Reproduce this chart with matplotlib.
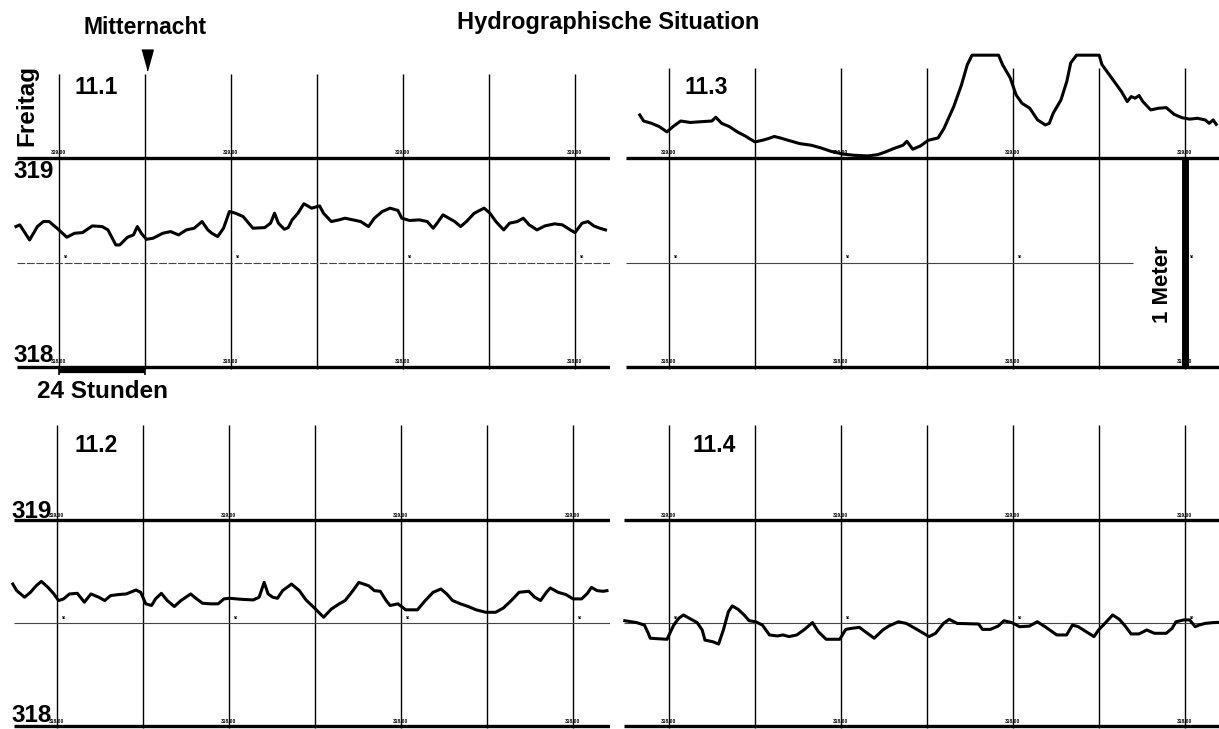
import matplotlib
matplotlib.use('Agg')
import matplotlib.pyplot as plt

# Pegel in m ü. M., Zeit in Tagen ab der ersten Mitternacht
days_11_1 = [-0.50, -0.456, -0.342, -0.251, -0.182, -0.114, -0.023, 0.091, 0.182, 0.273, 0.387, 0.501,
             0.569, 0.661, 0.706, 0.797, 0.866, 0.911, 0.957, 1.016, 1.093, 1.207, 1.298, 1.39, 1.481,
             1.572, 1.663, 1.731, 1.777, 1.845, 1.913, 1.982, 2.05, 2.141, 2.255, 2.392, 2.46, 2.506,
             2.551, 2.62, 2.665, 2.711, 2.779, 2.847, 2.938, 3.03, 3.075, 3.166, 3.257, 3.326, 3.417,
             3.508, 3.599, 3.667, 3.759, 3.85, 3.941, 3.986, 4.077, 4.191, 4.282, 4.351, 4.396, 4.465,
             4.533, 4.601, 4.67, 4.738, 4.829, 4.943, 5.011, 5.08, 5.171, 5.239, 5.33, 5.399, 5.467,
             5.558, 5.649, 5.763, 5.854, 5.945, 6.0, 6.082, 6.15, 6.219, 6.287, 6.355]
level_11_1 = [318.672, 318.68, 318.608, 318.672, 318.696, 318.696, 318.664, 318.621, 318.64, 318.643,
              318.675, 318.672, 318.656, 318.584, 318.584, 318.621, 318.632, 318.672, 318.64, 318.611,
              318.616, 318.64, 318.648, 318.632, 318.656, 318.664, 318.696, 318.656, 318.64, 318.624,
              318.664, 318.744, 318.736, 318.72, 318.664, 318.667, 318.688, 318.736, 318.688, 318.659,
              318.667, 318.704, 318.736, 318.781, 318.76, 318.771, 318.736, 318.696, 318.704, 318.712,
              318.704, 318.696, 318.672, 318.712, 318.744, 318.76, 318.749, 318.712, 318.701, 318.704,
              318.696, 318.664, 318.688, 318.728, 318.712, 318.696, 318.672, 318.696, 318.736, 318.76,
              318.736, 318.696, 318.656, 318.688, 318.696, 318.712, 318.68, 318.656, 318.675, 318.685,
              318.68, 318.656, 318.643, 318.688, 318.696, 318.675, 318.664, 318.656]

days_11_3 = [-0.34, -0.295, -0.204, -0.113, -0.023, 0.045, 0.136, 0.249, 0.385, 0.499, 0.544, 0.612,
             0.703, 0.794, 0.884, 0.998, 1.088, 1.156, 1.224, 1.293, 1.383, 1.519, 1.655, 1.769, 1.882,
             2.018, 2.154, 2.313, 2.426, 2.517, 2.63, 2.721, 2.766, 2.834, 2.925, 3.016, 3.129, 3.197,
             3.311, 3.401, 3.469, 3.524, 3.832, 3.878, 3.968, 4.036, 4.104, 4.195, 4.286, 4.376, 4.422,
             4.467, 4.558, 4.626, 4.671, 4.739, 5.002, 5.034, 5.147, 5.261, 5.329, 5.374, 5.42, 5.465,
             5.51, 5.601, 5.692, 5.782, 5.873, 5.964, 6.054, 6.145, 6.236, 6.281, 6.327, 6.363]
level_11_3 = [319.206, 319.177, 319.166, 319.15, 319.125, 319.15, 319.177, 319.17, 319.174, 319.177,
              319.195, 319.166, 319.15, 319.125, 319.106, 319.077, 319.085, 319.093, 319.103, 319.096,
              319.085, 319.069, 319.061, 319.048, 319.032, 319.019, 319.013, 319.01, 319.016, 319.029,
              319.048, 319.061, 319.08, 319.042, 319.058, 319.085, 319.096, 319.141, 319.246, 319.35,
              319.447, 319.492, 319.492, 319.447, 319.383, 319.302, 319.262, 319.238, 319.182, 319.158,
              319.166, 319.214, 319.278, 319.367, 319.455, 319.492, 319.492, 319.447, 319.383, 319.318,
              319.27, 319.294, 319.286, 319.299, 319.27, 319.23, 319.238, 319.241, 319.209, 319.193,
              319.186, 319.19, 319.182, 319.166, 319.182, 319.161]

days_11_2 = [-0.514, -0.468, -0.377, -0.309, -0.241, -0.182, -0.105, -0.036, 0.018, 0.077, 0.145,
             0.236, 0.318, 0.395, 0.486, 0.555, 0.623, 0.714, 0.805, 0.918, 0.973, 1.032, 1.1, 1.145,
             1.214, 1.282, 1.364, 1.441, 1.555, 1.6, 1.691, 1.782, 1.873, 1.941, 2.009, 2.145, 2.282,
             2.35, 2.409, 2.455, 2.509, 2.564, 2.623, 2.727, 2.818, 2.895, 2.986, 3.1, 3.191, 3.282,
             3.35, 3.441, 3.509, 3.623, 3.691, 3.759, 3.827, 3.873, 3.964, 4.055, 4.191, 4.282, 4.373,
             4.464, 4.532, 4.6, 4.691, 4.782, 4.873, 4.986, 5.1, 5.191, 5.282, 5.373, 5.486, 5.555,
             5.623, 5.691, 5.736, 5.827, 5.918, 6.0, 6.1, 6.168, 6.214, 6.282, 6.35, 6.395]
level_11_2 = [318.689, 318.657, 318.625, 318.649, 318.681, 318.702, 318.673, 318.641, 318.609, 318.617,
              318.641, 318.644, 318.601, 318.641, 318.625, 318.609, 318.633, 318.638, 318.641, 318.66,
              318.649, 318.593, 318.585, 318.617, 318.644, 318.609, 318.58, 318.609, 318.641, 318.625,
              318.596, 318.593, 318.593, 318.617, 318.62, 318.615, 318.612, 318.625, 318.697, 318.641,
              318.625, 318.62, 318.657, 318.689, 318.657, 318.612, 318.576, 318.528, 318.568, 318.593,
              318.609, 318.657, 318.697, 318.681, 318.657, 318.654, 318.609, 318.585, 318.593, 318.564,
              318.564, 318.609, 318.649, 318.665, 318.641, 318.609, 318.593, 318.58, 318.564, 318.552,
              318.552, 318.573, 318.609, 318.649, 318.654, 318.625, 318.609, 318.649, 318.67, 318.649,
              318.638, 318.617, 318.617, 318.644, 318.673, 318.657, 318.654, 318.657]

days_11_4 = [-0.514, -0.377, -0.286, -0.241, -0.218, -0.023, 0.055, 0.114, 0.168, 0.236, 0.327, 0.386,
             0.418, 0.509, 0.577, 0.632, 0.691, 0.736, 0.805, 0.873, 0.932, 1.009, 1.086, 1.168, 1.259,
             1.327, 1.395, 1.486, 1.577, 1.668, 1.736, 1.827, 1.986, 2.055, 2.123, 2.214, 2.282, 2.386,
             2.486, 2.555, 2.668, 2.759, 2.895, 3.023, 3.1, 3.191, 3.259, 3.35, 3.6, 3.645, 3.736,
             3.827, 3.895, 3.986, 4.077, 4.191, 4.282, 4.373, 4.509, 4.623, 4.691, 4.759, 4.85, 4.941,
             4.995, 5.068, 5.159, 5.236, 5.305, 5.373, 5.464, 5.555, 5.645, 5.782, 5.85, 5.895, 5.986,
             6.055, 6.118, 6.164, 6.232, 6.327, 6.395]
level_11_4 = [318.511, 318.502, 318.49, 318.45, 318.426, 318.421, 318.49, 318.523, 318.539, 318.523,
              318.502, 318.466, 318.417, 318.409, 318.398, 318.466, 318.555, 318.583, 318.566, 318.539,
              318.511, 318.506, 318.49, 318.442, 318.437, 318.442, 318.434, 318.442, 318.469, 318.502,
              318.458, 318.421, 318.421, 318.469, 318.474, 318.479, 318.458, 318.426, 318.466, 318.485,
              318.506, 318.498, 318.466, 318.434, 318.45, 318.498, 318.518, 318.498, 318.495, 318.469,
              318.469, 318.485, 318.511, 318.502, 318.482, 318.485, 318.506, 318.482, 318.442, 318.442,
              318.49, 318.482, 318.458, 318.434, 318.466, 318.498, 318.539, 318.518, 318.485, 318.447,
              318.447, 318.466, 318.45, 318.45, 318.474, 318.506, 318.515, 318.515, 318.482, 318.49,
              318.498, 318.502, 318.503]

midnights = [0, 1, 2, 3, 4, 5, 6]
label_days = [0, 2, 4, 6]

W, H = 1219, 729
DAY_PX = 86.0
plt.rcParams['font.family'] = ['Liberation Sans', 'DejaVu Sans']
fig = plt.figure(figsize=(W / 100, H / 100), dpi=100)
fig.patch.set_facecolor('white')


def add_panel(left, top, width, height, x0, y319, ppm):
    # Pixelrahmen -> Achse mit Tagen (x) und Metern (y)
    ax = fig.add_axes([left / W, 1 - (top + height) / H, width / W, height / H])
    ax.set_xlim((left - x0) / DAY_PX, (left + width - x0) / DAY_PX)
    ax.set_ylim(319 - (top + height - y319) / ppm, 319 + (y319 - top) / ppm)
    ax.axis('off')
    return ax


def draw_grid(ax, grid_top, x_start, x_end, mid_end, mid_dashed):
    ax.vlines(midnights, 317.99, grid_top, color='black', lw=1.0)
    ax.hlines([319, 318], x_start, x_end, color='black', lw=2.4)
    ls = (0, (7, 1.5)) if mid_dashed else '-'
    ax.hlines(318.5, x_start, mid_end, color='#444444', lw=0.8, linestyles=ls)
    for d in label_days:
        ax.text(d, 319.012, '319.00', fontsize=3.6, ha='center', va='bottom', fontweight='bold')
        ax.text(d, 318.012, '318.00', fontsize=3.6, ha='center', va='bottom', fontweight='bold')
        ax.text(d + 0.06, 318.515, '50', fontsize=2.8, ha='left', va='bottom', fontweight='bold')


ax1 = add_panel(0, 0, 610, 375, 59, 158, 209)
ax3 = add_panel(610, 0, 609, 375, 669, 158, 209)
ax2 = add_panel(0, 375, 610, 354, 57, 520, 206)
ax4 = add_panel(610, 375, 609, 354, 669, 520, 206)

draw_grid(ax1, 319.40, -0.49, 6.47, 6.47, True)
draw_grid(ax3, 319.43, -0.50, 6.6, 5.4, False)
draw_grid(ax2, 319.46, -0.50, 6.47, 6.47, False)
draw_grid(ax4, 319.46, -0.52, 6.6, 6.38, False)

ax1.plot(days_11_1, level_11_1, color='black', lw=2.2, solid_joinstyle='round')
ax3.plot(days_11_3, level_11_3, color='black', lw=2.2, solid_joinstyle='round')
ax2.plot(days_11_2, level_11_2, color='black', lw=2.2, solid_joinstyle='round')
ax4.plot(days_11_4, level_11_4, color='black', lw=2.2, solid_joinstyle='round')

# Massstab: 24 Stunden und 1 Meter
ax1.hlines(317.985, 0, 1, color='black', lw=4.5)
ax1.vlines([0, 1], 317.96, 318.0, color='black', lw=1.2)
ax3.vlines(6, 318, 319, color='black', lw=5)

# Mitternacht-Pfeil
ax1.plot([1.02], [319.47], marker=[(-0.55, 1), (0.55, 1), (0, -1)], markersize=15,
         color='black', clip_on=False)

bold = dict(fontweight='bold', color='black')
fig.text(608 / W, 1 - 22 / H, 'Hydrographische Situation', fontsize=17, ha='center', va='center', **bold)
fig.text(145 / W, 1 - 28 / H, 'Mitternacht', fontsize=16.5, ha='center', va='center', **bold)
fig.text(27 / W, 1 - 105 / H, 'Freitag', fontsize=17.5, rotation=90, ha='center', va='center', **bold)
fig.text(1163 / W, 1 - 284 / H, '1 Meter', fontsize=16, rotation=90, ha='center', va='center', **bold)
fig.text(37 / W, 1 - 392 / H, '24 Stunden', fontsize=17.5, ha='left', va='center', **bold)

for name, x, y in [('11.1', 74, 88), ('11.3', 684, 88), ('11.2', 74, 446), ('11.4', 692, 446)]:
    fig.text(x / W, 1 - y / H, name, fontsize=16.5, ha='left', va='center', **bold)

for name, x, y in [('319', 13, 171), ('318', 13, 356), ('319', 11, 512), ('318', 11, 716)]:
    fig.text(x / W, 1 - y / H, name, fontsize=17.5, ha='left', va='center', **bold)

fig.savefig('out.png', dpi=100, facecolor='white')
